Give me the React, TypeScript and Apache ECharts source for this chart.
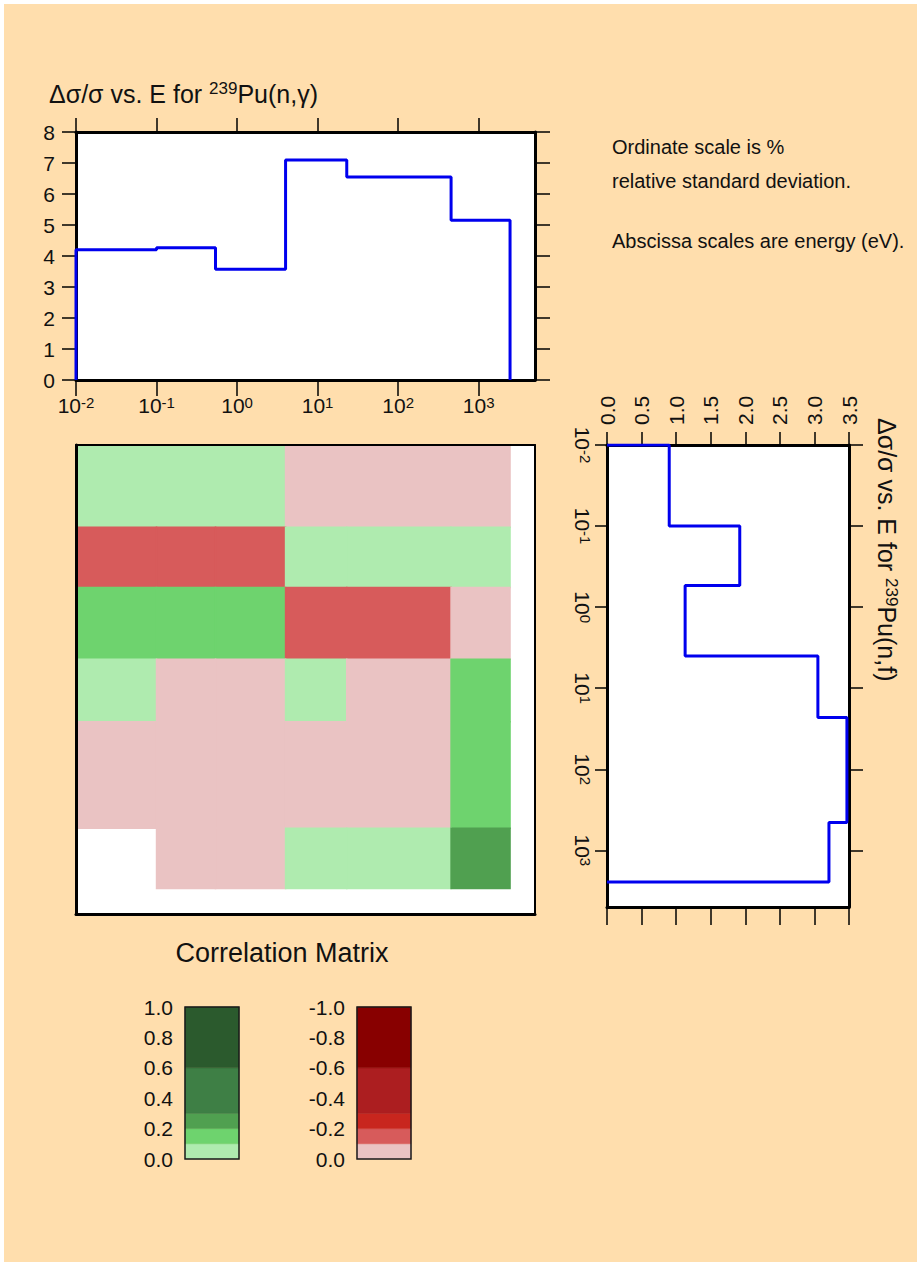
import React, { useEffect, useRef } from "react";
import * as echarts from "echarts";

// ---------- data ----------
const energyBounds = [0.01, 0.1, 0.54, 4.0, 23, 454, 2450];
const captureUnc = [4.2, 4.27, 3.57, 7.1, 6.55, 5.15]; // % rel. std. dev. 239Pu(n,g)
const fissionUnc = [0.9, 1.92, 1.13, 3.05, 3.47, 3.21]; // % rel. std. dev. 239Pu(n,f)
const decadeTicks = [0.01, 0.1, 1, 10, 100, 1000];
const energyMin = 0.01;
const energyMax = 5000;
// rows: fission groups (top = low energy), columns: capture groups
const correlation: (number | null)[][] = [
  [0.05, 0.05, 0.05, -0.05, -0.05, -0.05],
  [-0.15, -0.15, -0.15, 0.05, 0.05, 0.05],
  [0.15, 0.15, 0.15, -0.15, -0.15, -0.05],
  [0.05, -0.05, -0.05, 0.05, -0.05, 0.15],
  [-0.05, -0.05, -0.05, -0.05, -0.05, 0.15],
  [null, -0.05, -0.05, 0.05, 0.05, 0.25],
];
const posBins = [0, 0.1, 0.2, 0.3, 0.6, 1.0];
const posColors = ["#afebaf", "#6ed36e", "#50a050", "#3e7f45", "#2b5a2d"];
const negBins = [0, -0.1, -0.2, -0.3, -0.6, -1.0];
const negColors = ["#eac3c3", "#d75b5b", "#c8261e", "#ac1e20", "#880000"];

const FONT = "'Liberation Sans', Arial, Helvetica, sans-serif";
const BLUE = "#0000ee";
const INK = "#111";

function colorFor(v: number): string {
  if (v >= 0) {
    for (let i = 0; i < posColors.length; i++) if (v <= posBins[i + 1]) return posColors[i];
    return posColors[posColors.length - 1];
  }
  for (let i = 0; i < negColors.length; i++) if (v >= negBins[i + 1]) return negColors[i];
  return negColors[negColors.length - 1];
}

function stepXY(values: number[]): number[][] {
  const pts: number[][] = [[energyBounds[0], 0]];
  values.forEach((v, i) => {
    pts.push([energyBounds[i], v]);
    pts.push([energyBounds[i + 1], v]);
  });
  pts.push([energyBounds[energyBounds.length - 1], 0]);
  return pts;
}

function stepYX(values: number[]): number[][] {
  const pts: number[][] = [[0, energyBounds[0]]];
  values.forEach((v, i) => {
    pts.push([v, energyBounds[i]]);
    pts.push([v, energyBounds[i + 1]]);
  });
  pts.push([0, energyBounds[energyBounds.length - 1]]);
  return pts;
}

const matrixCells: number[][] = [];
correlation.forEach((row, i) =>
  row.forEach((v, j) => {
    if (v === null) return;
    matrixCells.push([energyBounds[j], energyBounds[j + 1], energyBounds[i], energyBounds[i + 1], v]);
  })
);
const posLegend = posColors.map((c, i) => [posBins[i], posBins[i + 1], i]);
const negLegend = negColors.map((c, i) => [negBins[i], negBins[i + 1], i]);

const powLabel = (v: number) => "{b|10}{s|" + Math.round(Math.log10(v)) + "}";
const powRich = {
  b: { fontSize: 21, lineHeight: 21, padding: [8, 0, 0, 0], verticalAlign: "bottom", fontFamily: FONT, color: INK },
  s: { fontSize: 15, lineHeight: 15, verticalAlign: "top", fontFamily: FONT, color: INK },
};
const titleRich = {
  m: { fontSize: 25, lineHeight: 26, padding: [7, 0, 0, 0], verticalAlign: "bottom", fontFamily: FONT, fill: INK },
  s: { fontSize: 17, lineHeight: 17, verticalAlign: "top", fontFamily: FONT, fill: INK },
};

const frameLine = { show: true, onZero: false, lineStyle: { color: "#000", width: 3 } };
const tickStyle = { color: "#000", width: 1.5 };

export default function App() {
  const ref = useRef<HTMLDivElement>(null);
  useEffect(() => {
    if (!ref.current) return;
    const chart = echarts.init(ref.current, undefined, { renderer: "svg" });

    const cellRender = (params: any, api: any) => {
      const p1 = api.coord([api.value(0), api.value(2)]);
      const p2 = api.coord([api.value(1), api.value(3)]);
      const c = colorFor(api.value(4));
      return {
        type: "rect",
        shape: { x: Math.min(p1[0], p2[0]), y: Math.min(p1[1], p2[1]), width: Math.abs(p2[0] - p1[0]), height: Math.abs(p2[1] - p1[1]) },
        style: { fill: c, stroke: c, lineWidth: 1.5 },
      };
    };
    const legendRender = (colors: string[]) => (params: any, api: any) => {
      const p1 = api.coord([0, api.value(0)]);
      const p2 = api.coord([1, api.value(1)]);
      const c = colors[api.value(2)];
      return {
        type: "rect",
        shape: { x: p1[0], y: Math.min(p1[1], p2[1]), width: p2[0] - p1[0], height: Math.abs(p2[1] - p1[1]) },
        style: { fill: c, stroke: c, lineWidth: 0.5 },
      };
    };

    const option: any = {
      animation: false,
      textStyle: { fontFamily: FONT },
      grid: [
        { left: 76, top: 132, width: 459, height: 248, show: true, backgroundColor: "#fff", borderWidth: 0 },
        { left: 607, top: 445, width: 242, height: 462, show: true, backgroundColor: "#fff", borderWidth: 0 },
        { left: 76, top: 445, width: 459, height: 469, show: true, backgroundColor: "#fff", borderWidth: 0 },
        { left: 185, top: 1007, width: 54, height: 152, show: true, backgroundColor: "transparent", borderColor: "#1a1a1a", borderWidth: 1.5, z: 10 },
        { left: 357, top: 1007, width: 54, height: 152, show: true, backgroundColor: "transparent", borderColor: "#1a1a1a", borderWidth: 1.5, z: 10 },
      ],
      xAxis: [
        {
          type: "log", gridIndex: 0, position: "bottom", min: energyMin, max: energyMax, z: 5,
          axisLine: frameLine, splitLine: { show: false },
          axisTick: { show: true, length: 16, lineStyle: tickStyle, customValues: decadeTicks },
          axisLabel: { show: true, margin: 15, formatter: powLabel, rich: powRich, customValues: decadeTicks },
        },
        {
          type: "log", gridIndex: 0, position: "top", min: energyMin, max: energyMax, z: 5,
          axisLine: frameLine, splitLine: { show: false },
          axisTick: { show: true, length: 14, lineStyle: tickStyle, customValues: decadeTicks },
          axisLabel: { show: false },
        },
        {
          type: "value", gridIndex: 1, position: "top", min: 0, max: 3.5, interval: 0.5, z: 5,
          axisLine: frameLine, splitLine: { show: false },
          axisTick: { show: true, length: 13, lineStyle: tickStyle },
          axisLabel: { show: true, rotate: -90, margin: 20, fontSize: 21, color: INK, formatter: (v: number) => v.toFixed(1) },
        },
        {
          type: "value", gridIndex: 1, position: "bottom", min: 0, max: 3.5, interval: 0.5, z: 5,
          axisLine: frameLine, splitLine: { show: false },
          axisTick: { show: true, length: 18, lineStyle: tickStyle },
          axisLabel: { show: false },
        },
        {
          type: "log", gridIndex: 2, position: "bottom", min: energyMin, max: energyMax, z: 5,
          axisLine: frameLine, splitLine: { show: false }, axisTick: { show: false }, axisLabel: { show: false },
        },
        {
          type: "log", gridIndex: 2, position: "top", min: energyMin, max: energyMax, z: 5,
          axisLine: { show: true, onZero: false, lineStyle: { color: "#000", width: 2 } },
          splitLine: { show: false }, axisTick: { show: false }, axisLabel: { show: false },
        },
        { type: "value", gridIndex: 3, min: 0, max: 1, show: false },
        { type: "value", gridIndex: 4, min: 0, max: 1, show: false },
      ],
      yAxis: [
        {
          type: "value", gridIndex: 0, position: "left", min: 0, max: 8, interval: 1, z: 5,
          axisLine: frameLine, splitLine: { show: false },
          axisTick: { show: true, length: 14, lineStyle: tickStyle },
          axisLabel: { show: true, margin: 21, fontSize: 21, color: INK },
        },
        {
          type: "value", gridIndex: 0, position: "right", min: 0, max: 8, interval: 1, z: 5,
          axisLine: frameLine, splitLine: { show: false },
          axisTick: { show: true, length: 15, lineStyle: tickStyle },
          axisLabel: { show: false },
        },
        {
          type: "log", gridIndex: 1, position: "left", inverse: true, min: energyMin, max: energyMax, z: 5,
          axisLine: frameLine, splitLine: { show: false },
          axisTick: { show: true, length: 12, lineStyle: tickStyle, customValues: decadeTicks },
          axisLabel: { show: true, rotate: -90, margin: 14, formatter: powLabel, rich: powRich, customValues: decadeTicks },
        },
        {
          type: "log", gridIndex: 1, position: "right", inverse: true, min: energyMin, max: energyMax, z: 5,
          axisLine: frameLine, splitLine: { show: false },
          axisTick: { show: true, length: 14, lineStyle: tickStyle, customValues: decadeTicks },
          axisLabel: { show: false },
        },
        {
          type: "log", gridIndex: 2, position: "left", inverse: true, min: energyMin, max: energyMax, z: 5,
          axisLine: frameLine, splitLine: { show: false }, axisTick: { show: false }, axisLabel: { show: false },
        },
        {
          type: "log", gridIndex: 2, position: "right", inverse: true, min: energyMin, max: energyMax, z: 5,
          axisLine: { show: true, onZero: false, lineStyle: { color: "#000", width: 2 } },
          splitLine: { show: false }, axisTick: { show: false }, axisLabel: { show: false },
        },
        {
          type: "value", gridIndex: 3, min: 0, max: 1, interval: 0.2,
          axisLine: { show: false }, axisTick: { show: false }, splitLine: { show: false },
          axisLabel: { show: true, margin: 12, fontSize: 21, color: INK, formatter: (v: number) => v.toFixed(1) },
        },
        {
          type: "value", gridIndex: 4, min: -1, max: 0, interval: 0.2, inverse: true,
          axisLine: { show: false }, axisTick: { show: false }, splitLine: { show: false },
          axisLabel: { show: true, margin: 12, fontSize: 21, color: INK, formatter: (v: number) => v.toFixed(1) },
        },
      ],
      series: [
        {
          type: "line", xAxisIndex: 0, yAxisIndex: 0, data: stepXY(captureUnc), showSymbol: false, z: 8,
          lineStyle: { color: BLUE, width: 3 }, itemStyle: { color: BLUE },
        },
        {
          type: "line", xAxisIndex: 2, yAxisIndex: 2, data: stepYX(fissionUnc), showSymbol: false, z: 8,
          lineStyle: { color: BLUE, width: 3 }, itemStyle: { color: BLUE },
        },
        {
          type: "custom", xAxisIndex: 4, yAxisIndex: 4, data: matrixCells,
          encode: { x: [0, 1], y: [2, 3] }, renderItem: cellRender,
        },
        { type: "custom", xAxisIndex: 6, yAxisIndex: 6, data: posLegend, encode: { y: [0, 1] }, renderItem: legendRender(posColors) },
        { type: "custom", xAxisIndex: 7, yAxisIndex: 7, data: negLegend, encode: { y: [0, 1] }, renderItem: legendRender(negColors) },
      ],
      graphic: [
        {
          type: "text", x: 49, y: 93,
          style: { text: "{m|Δσ/σ vs. E for }{s|239}{m|Pu(n,γ)}", verticalAlign: "middle", align: "left", rich: titleRich },
        },
        {
          type: "text", x: 887, y: 418, rotation: -Math.PI / 2,
          style: { text: "{m|Δσ/σ vs. E for }{s|239}{m|Pu(n,f)}", verticalAlign: "middle", align: "left", rich: titleRich },
        },
        { type: "text", x: 612, y: 147, style: { text: "Ordinate scale is %", fontSize: 20, fontFamily: FONT, fill: INK, verticalAlign: "middle" } },
        { type: "text", x: 612, y: 181, style: { text: "relative standard deviation.", fontSize: 20, fontFamily: FONT, fill: INK, verticalAlign: "middle" } },
        { type: "text", x: 612, y: 241, style: { text: "Abscissa scales are energy (eV).", fontSize: 20, fontFamily: FONT, fill: INK, verticalAlign: "middle" } },
        { type: "text", x: 282, y: 953, style: { text: "Correlation Matrix", fontSize: 27, fontFamily: FONT, fill: INK, align: "center", verticalAlign: "middle" } },
      ],
    };
    chart.setOption(option);
    return () => chart.dispose();
  }, []);

  return (
    <div
      ref={ref}
      style={{
        position: "absolute",
        left: 0,
        top: 0,
        width: 917,
        height: 1262,
        background: "#FFDEAD",
        boxShadow: "inset 4px 4px 0 0 #ffffff",
      }}
    />
  );
}
